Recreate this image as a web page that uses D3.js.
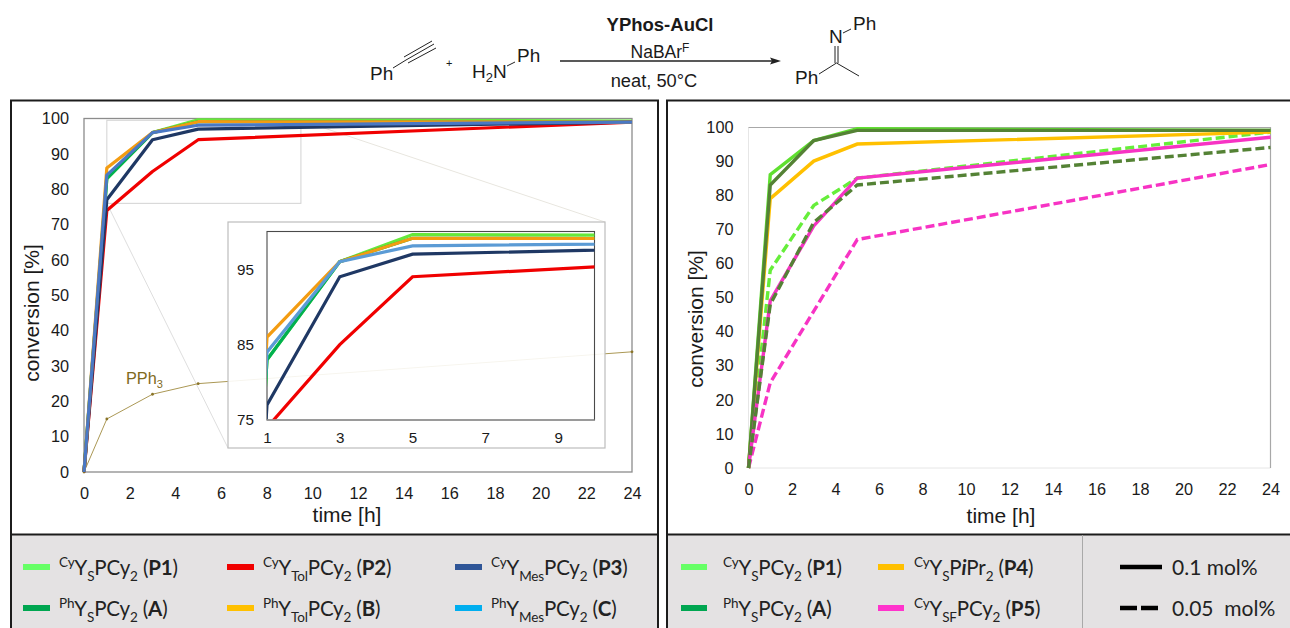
<!DOCTYPE html>
<html><head><meta charset="utf-8">
<script src="https://cdn.jsdelivr.net/npm/d3@7"></script>
<style>
html,body{margin:0;padding:0;background:#fff;overflow:hidden}
svg{display:block}
text{font-family:"Liberation Sans",Arial,sans-serif;fill:#1a1a1a}
.axis path,.axis line{display:none}
.lg text{font-family:Lato,"Open Sans",sans-serif;fill:#222}
</style></head><body>
<svg id="c" width="1290" height="628"></svg>
<script>
// ---------- data ----------
const hours = [0, 1, 3, 5, 24];
const xTicksMain = [0,2,4,6,8,10,12,14,16,18,20,22,24];
const yTicksMain = [0,10,20,30,40,50,60,70,80,90,100];
const xTicksInset = [1,3,5,7,9];
const yTicksInset = [75,85,95];

const P1 = [0, 83, 96, 99.6, 99.3];
const A  = [0, 83, 96, 99.1, 99];
const P2 = [0, 74, 85, 94, 99];
const P3 = [0, 77, 94, 97, 99];
const B  = [0, 86, 96, 99.1, 99];
const C  = [0, 84, 96, 98.1, 99];
const PPh3 = [0, 15, 22, 25, 34];

const P1_high = [0, 86, 96, 99.5, 99];
const A_high  = [0, 83, 96, 99, 99];
const P4_high = [0, 79, 90, 95, 98.5];
const P5_high = [0, 49, 71, 85, 97];
const P1_low  = [0, 58, 77, 85, 98.5];
const A_low   = [0, 48, 72, 83, 94];
const P5_low  = [0, 25, 46, 67, 89];

const leftSeries = [
  {v:P1, c:"#66e83a"}, {v:A, c:"#00b050"}, {v:P2, c:"#f00000"},
  {v:P3, c:"#1f3864"}, {v:B, c:"#f39c12"}, {v:C, c:"#4a78c4", ci:"#5b9bd5"}
];
const rightSeries = [
  {v:P1_low, c:"#66ee3a", d:1}, {v:P5_low, c:"#f733c4", d:1}, {v:P4_high, c:"#ffc000"},
  {v:P1_high, c:"#5fe02f"}, {v:A_high, c:"#548235"}, {v:P5_high, c:"#f733c4"}, {v:A_low, c:"#548235", d:1}
];
const legendLeft = [
  {x:23, row:0, c:"#66ff66", t:["^Cy","Y","_S","PCy","_2"," (","*P1",")"]},
  {x:23, row:1, c:"#00a651", t:["^Ph","Y","_S","PCy","_2"," (","*A",")"]},
  {x:227,row:0, c:"#f00000", t:["^Cy","Y","_Tol","PCy","_2"," (","*P2",")"]},
  {x:227,row:1, c:"#ffc000", t:["^Ph","Y","_Tol","PCy","_2"," (","*B",")"]},
  {x:455,row:0, c:"#2f5597", t:["^Cy","Y","_Mes","PCy","_2"," (","*P3",")"]},
  {x:455,row:1, c:"#00aeef", t:["^Ph","Y","_Mes","PCy","_2"," (","*C",")"]}
];
const legendRight = [
  {x:681,tx:723,row:0, c:"#66ff66", t:["^Cy","Y","_S","PCy","_2"," (","*P1",")"]},
  {x:681,tx:723,row:1, c:"#00a651", t:["^Ph","Y","_S","PCy","_2"," (","*A",")"]},
  {x:878,tx:914,row:0, c:"#ffc000", t:["^Cy","Y","_S","P","/i","Pr","_2"," (","*P4",")"]},
  {x:878,tx:914,row:1, c:"#ff33cc", t:["^Cy","Y","_SF","PCy","_2"," (","*P5",")"]}
];

// ---------- helpers ----------
const svg = d3.select("#c");
const lineGen = (x,y)=>d3.line().x((d,i)=>x(hours[i])).y(d=>y(d));

function axes(g,x,y,xt,yt,fs,xOff,yOff){
  g.append("g").attr("class","axis").attr("transform",`translate(0,${y.range()[0]+xOff})`)
    .call(d3.axisBottom(x).tickValues(xt).tickSize(0).tickPadding(0).tickFormat(d3.format("d")))
    .call(s=>s.selectAll("text").attr("font-size",fs).attr("font-family",null));
  g.append("g").attr("class","axis").attr("transform",`translate(${x.range()[0]-yOff},0)`)
    .call(d3.axisLeft(y).tickValues(yt).tickSize(0).tickPadding(0).tickFormat(d3.format("d")))
    .call(s=>s.selectAll("text").attr("font-size",fs).attr("font-family",null));
}
function rich(parent,x,y,tokens,fs){
  const t = parent.append("text").attr("x",x).attr("y",y).attr("font-size",fs).attr("xml:space","preserve").attr("letter-spacing",-0.15);
  let shift = 0;
  tokens.forEach(k=>{
    const m = k[0];
    const s = t.append("tspan");
    let target = 0, txt = k;
    if(m==="^"){target=-8;txt=k.slice(1);s.attr("font-size",fs*0.66);}
    else if(m==="_"){target=6;txt=k.slice(1);s.attr("font-size",fs*0.66);}
    else if(m==="*"){txt=k.slice(1);s.attr("font-weight","700");}
    else if(m==="/"){txt=k.slice(1);s.attr("font-weight","700").attr("font-style","italic");}
    s.attr("dy",target-shift).text(txt);
    shift = target;
  });
  return t;
}
function frame(x,w){
  svg.append("rect").attr("x",x).attr("y",534).attr("width",w).attr("height",96).attr("fill","#e4e2e3");
  svg.append("rect").attr("x",x).attr("y",100.5).attr("width",w).attr("height",530)
     .attr("fill","none").attr("stroke","#1c1c1c").attr("stroke-width",2);
  svg.append("line").attr("x1",x).attr("x2",x+w).attr("y1",534.5).attr("y2",534.5).attr("stroke","#1c1c1c").attr("stroke-width",2);
}

// ---------- panels ----------
frame(11,647);
frame(667,630);

// ---------- reaction scheme ----------
const sch = svg.append("g");
const lab = (x,y,s,o={})=>sch.append("text").attr("x",x).attr("y",y).attr("font-size",o.fs||19)
  .attr("text-anchor",o.a||"start").attr("font-weight",o.b?"700":null).text(s);
const bond = (a,b,c,d,w=1)=>sch.append("line").attr("x1",a).attr("y1",b).attr("x2",c).attr("y2",d).attr("stroke","#222").attr("stroke-width",w);
lab(370,80,"Ph");
bond(393,68,406,60); bond(406,60,434,44); bond(404,57,432,41); bond(408,63,436,48);
lab(446,67,"+",{fs:11});
const h2n = lab(472,78,"H"); h2n.append("tspan").attr("dy",4).attr("font-size",13).text("2"); h2n.append("tspan").attr("dy",-4).text("N");
bond(507,66,515,62);
lab(517,62,"Ph");
bond(560,61,772,61,1.3);
sch.append("path").attr("d","M781 61 L770 57.5 L772 61 L770 64.5 Z").attr("fill","#222");
lab(660,31,"YPhos-AuCl",{a:"middle",b:1,fs:18.5});
const nb = lab(660,58,"NaBAr",{a:"middle",fs:17.5}); nb.append("tspan").attr("dy",-6).attr("font-size",12).text("F");
lab(654,87,"neat, 50°C",{a:"middle",fs:18.3});
lab(829,43,"N");
bond(835,46,835,63); bond(838,46,838,63);
bond(819,74,836.5,63); bond(836.5,63,859,76);
bond(843,33,851,29);
lab(853,30,"Ph");
lab(795,84,"Ph");

// ---------- left chart ----------
const xL = d3.scaleLinear().domain([0,24]).range([84,632]);
const yL = d3.scaleLinear().domain([0,100]).range([472,118.5]);
const gL = svg.append("g");
gL.append("rect").attr("x",84).attr("y",118.5).attr("width",548).attr("height",353.5)
  .attr("fill","none").attr("stroke","#8c8c8c").attr("stroke-width",1.3);
axes(gL,xL,yL,xTicksMain,yTicksMain,16.3,15,15);
gL.append("text").attr("transform",`translate(39,313) rotate(-90)`).attr("text-anchor","middle").attr("font-size",21).text("conversion [%]");
gL.append("text").attr("x",347).attr("y",522).attr("text-anchor","middle").attr("font-size",21).text("time [h]");

// zoom rectangle + connectors
gL.append("rect").attr("x",xL(1)).attr("y",yL(99.5)).attr("width",xL(9.5)-xL(1)).attr("height",yL(76)-yL(99.5))
  .attr("fill","none").attr("stroke","#d2d2d2");
gL.append("line").attr("x1",xL(1)).attr("y1",yL(76)).attr("x2",228).attr("y2",448).attr("stroke","#dedede");
gL.append("line").attr("x1",xL(9.5)).attr("y1",yL(99.5)).attr("x2",605).attr("y2",222).attr("stroke","#e8e6df");

// PPh3
gL.append("path").datum(PPh3).attr("d",lineGen(xL,yL)).attr("fill","none").attr("stroke","#ab9855").attr("stroke-width",1);
gL.selectAll("circle.p").data(PPh3).join("circle").attr("class","p").attr("r",1.4).attr("fill","#8a7428")
  .attr("cx",(d,i)=>xL(hours[i])).attr("cy",d=>yL(d));
const pp = gL.append("text").attr("x",126).attr("y",384).attr("font-size",16.3).style("fill","#806a1c").text("PPh");
pp.append("tspan").attr("dy",4).attr("font-size",11).style("fill","#806a1c").text("3");

leftSeries.forEach(s=>gL.append("path").datum(s.v).attr("d",lineGen(xL,yL)).attr("fill","none")
  .attr("stroke",s.c).attr("stroke-width",3.2).attr("stroke-linejoin","round"));

// inset
const xI = d3.scaleLinear().domain([1,10]).range([267,594.5]);
const yI = d3.scaleLinear().domain([75,100]).range([420,231.5]);
const gI = svg.append("g");
gI.append("rect").attr("x",228).attr("y",222).attr("width",377).attr("height",226)
  .attr("fill","#fff").attr("fill-opacity",0.9).attr("stroke","#bdbdbd").attr("stroke-width",1.2);
gI.append("clipPath").attr("id","ci").append("rect").attr("x",267).attr("y",231.5).attr("width",327.5).attr("height",188.5);
gI.append("rect").attr("x",267).attr("y",231.5).attr("width",327.5).attr("height",188.5)
  .attr("fill","none").attr("stroke","#4a4a4a").attr("stroke-width",1.1);
gI.append("g").attr("clip-path","url(#ci)").selectAll("path").data(leftSeries).join("path")
  .attr("d",s=>lineGen(xI,yI)(s.v)).attr("fill","none").attr("stroke",s=>s.ci||s.c).attr("stroke-width",3.2);
gI.append("line").attr("x1",267).attr("x2",594.5).attr("y1",420).attr("y2",420).attr("stroke","#9a9a9a").attr("stroke-width",1.3);
axes(gI,xI,yI,xTicksInset,yTicksInset,15.2,12.4,13);

// ---------- right chart ----------
const xR = d3.scaleLinear().domain([0,24]).range([748.5,1270.5]);
const yR = d3.scaleLinear().domain([0,100]).range([468,127]);
const gR = svg.append("g");
gR.append("path").attr("d",`M748.5 127.5V468H1270.5`).attr("fill","none").attr("stroke","#e6e6e6").attr("stroke-width",1);
gR.append("path").attr("d",`M748.5 127.5H1270.5V468`).attr("fill","none").attr("stroke","#a8a8a8").attr("stroke-width",1.2);
axes(gR,xR,yR,xTicksMain,yTicksMain,16.3,15.6,15);
gR.append("text").attr("transform",`translate(703,319) rotate(-90)`).attr("text-anchor","middle").attr("font-size",21).text("conversion [%]");
gR.append("text").attr("x",1001).attr("y",523).attr("text-anchor","middle").attr("font-size",21).text("time [h]");
rightSeries.forEach(s=>gR.append("path").datum(s.v).attr("d",lineGen(xR,yR)).attr("fill","none")
  .attr("stroke",s.c).attr("stroke-width",3.4).attr("stroke-dasharray",s.d?"9 4":null));

// ---------- legends ----------
const rowY = [567,608], baseY = [575,616];
const lg = svg.append("g").attr("class","lg");
legendLeft.forEach(e=>{
  lg.append("rect").attr("x",e.x).attr("y",rowY[e.row]-3).attr("width",27).attr("height",6).attr("fill",e.c);
  rich(lg,e.x+36,baseY[e.row],e.t,20.5);
});
legendRight.forEach(e=>{
  lg.append("rect").attr("x",e.x).attr("y",rowY[e.row]-3).attr("width",26).attr("height",6).attr("fill",e.c);
  rich(lg,e.tx,baseY[e.row],e.t,20.5);
});
lg.append("line").attr("x1",1082.5).attr("x2",1082.5).attr("y1",535).attr("y2",628).attr("stroke","#a9a9a9");
lg.append("line").attr("x1",1120).attr("x2",1162).attr("y1",rowY[0]).attr("y2",rowY[0]).attr("stroke","#000").attr("stroke-width",4.5);
lg.append("line").attr("x1",1120).attr("x2",1158).attr("y1",rowY[1]).attr("y2",rowY[1]).attr("stroke","#000").attr("stroke-width",4.5).attr("stroke-dasharray","17 4");
lg.append("text").attr("x",1172).attr("y",575).attr("font-size",21).text("0.1 mol%");
lg.append("text").attr("x",1172).attr("y",616).attr("font-size",21).attr("xml:space","preserve").text("0.05  mol%");
</script></body></html>
